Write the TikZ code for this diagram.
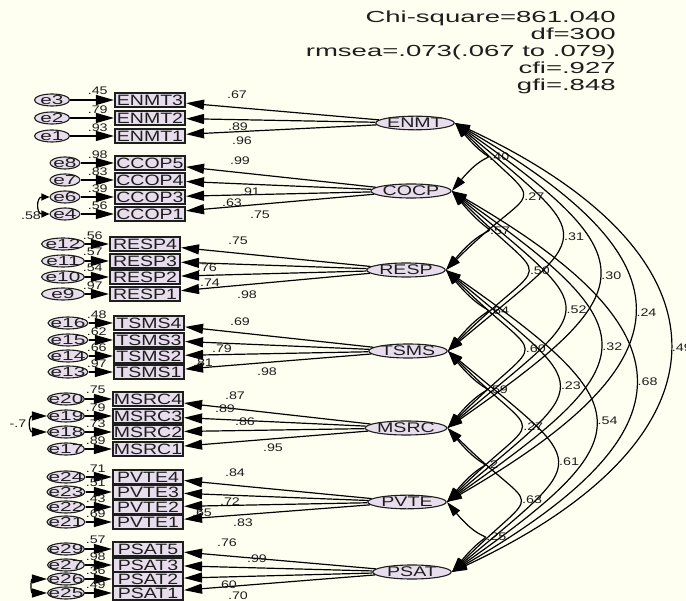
\documentclass[tikz,border=0pt]{standalone}
\usepackage{fontspec}
\setmainfont{Liberation Sans}
\usetikzlibrary{arrows.meta,calc,shapes.geometric}
\definecolor{paper}{RGB}{255,255,241}
\definecolor{lilac}{RGB}{231,221,236}
\definecolor{ink}{RGB}{30,30,30}
\newcommand{\indic}[7]{% box, x, y, error, error x, error width, r2
\node[obs] (#1) at (#2,#3) {#1};
\node[err,minimum width=#6pt,label={[errtxt]center:#4}] (#4) at (#5,#3) {};
\draw[arr] (#4) -- (#1);
\node[lab,anchor=east] (r#1) at ($(#1.north west)+(-6,-1)$) {#7};
}
\newcommand{\corr}[5]{% from, to, angle, looseness, value
\draw[cov] (#1.east) to[out=-#3,in=#3,looseness=#4] node[lab,pos=.5,anchor=west,xshift=2pt] (c#1#2) {#5} (#2.east);
}

\begin{document}
\begin{tikzpicture}[x=1pt,y=-1pt,
  obs/.style={draw=ink,line width=1.5pt,fill=lilac,rectangle,inner sep=0pt,minimum width=54pt,minimum height=14pt,xscale=1.3,font=\fontsize{15}{15}\selectfont,text=ink},
  lat/.style={draw=ink,line width=1.1pt,fill=lilac,ellipse,inner sep=0pt,minimum width=56pt,minimum height=13pt,xscale=1.4,font=\fontsize{14}{14}\selectfont,text=ink},
  err/.style={draw=ink,line width=1.1pt,fill=lilac,ellipse,inner sep=0pt,minimum height=12pt},
  errtxt/.style={inner sep=0pt,xscale=1.6,font=\fontsize{13}{13}\selectfont,text=ink},
  lab/.style={inner sep=0pt,xscale=1.3,font=\fontsize{11}{11}\selectfont,text=ink},
  hdr/.style={inner sep=0pt,anchor=east,align=right,xscale=1.72,font=\fontsize{16}{17}\selectfont,text=ink},
  arr/.style={-{Triangle[length=18pt,width=10pt]},line width=1.2pt},
  cov/.style={{Triangle[length=15pt,width=9pt]}-{Triangle[length=15pt,width=9pt]},line width=1.2pt},
  smallcov/.style={{Triangle[length=8pt,width=7pt]}-{Triangle[length=8pt,width=7pt]},line width=1.2pt}]
\useasboundingbox (0,0) rectangle (686,601);
\fill[paper] (0,0) rectangle (686,601);
%
\node[hdr] (fit) at (616,52) {Chi-square=861.040\\df=300\\rmsea=.073(.067 to .079)\\cfi=.927\\gfi=.848};
%
\node[lat] (ENMT) at (415,123) {ENMT};
\node[lat] (COCP) at (411,191) {COCP};
\node[lat] (RESP) at (406,270) {RESP};
\node[lat] (TSMS) at (408,351) {TSMS};
\node[lat] (MSRC) at (406,428) {MSRC};
\node[lat] (PVTE) at (407,502) {PVTE};
\node[lat] (PSAT) at (412,572) {PSAT};
%
\indic{ENMT3}{150}{100}{e3}{52}{35}{.45}
\indic{ENMT2}{150}{118}{e2}{52}{35}{.79}
\indic{ENMT1}{150}{136}{e1}{52}{35}{.93}
\draw[arr] (ENMT) -- (ENMT3);
\draw[arr] (ENMT) -- (ENMT2);
\draw[arr] (ENMT) -- (ENMT1);
\node[lab] (lENMT3) at (237,95) {.67};
\node[lab] (lENMT2) at (238,127) {.89};
\node[lab] (lENMT1) at (242,141) {.96};
%
\indic{CCOP5}{150}{163}{e8}{65}{30}{.98}
\indic{CCOP4}{150}{180}{e7}{65}{30}{.83}
\indic{CCOP3}{150}{197}{e6}{65}{30}{.39}
\indic{CCOP1}{150}{214}{e4}{65}{30}{.56}
\draw[arr] (COCP) -- (CCOP5);
\draw[arr] (COCP) -- (CCOP4);
\draw[arr] (COCP) -- (CCOP3);
\draw[arr] (COCP) -- (CCOP1);
\node[lab] (lCCOP5) at (240,161) {.99};
\node[lab] (lCCOP4) at (250,192) {.91};
\node[lab] (lCCOP3) at (232,203) {.63};
\node[lab] (lCCOP1) at (260,215) {.75};
\draw[smallcov] (e6.west) to[out=180,in=180,looseness=2] (e4.west);
\node[lab] (ce6e4) at (31,216) {.58};
%
\indic{RESP4}{145}{244}{e12}{63}{43}{.56}
\indic{RESP3}{145}{261}{e11}{63}{43}{.57}
\indic{RESP2}{145}{277}{e10}{63}{43}{.54}
\indic{RESP1}{145}{294}{e9}{63}{43}{.97}
\draw[arr] (RESP) -- (RESP4);
\draw[arr] (RESP) -- (RESP3);
\draw[arr] (RESP) -- (RESP2);
\draw[arr] (RESP) -- (RESP1);
\node[lab] (lRESP4) at (238,241) {.75};
\node[lab] (lRESP3) at (207,268) {.76};
\node[lab] (lRESP2) at (210,283) {.74};
\node[lab] (lRESP1) at (247,295) {.98};
%
\indic{TSMS4}{149}{323}{e16}{68}{40}{.48}
\indic{TSMS3}{149}{340}{e15}{68}{40}{.62}
\indic{TSMS2}{149}{356}{e14}{68}{40}{.66}
\indic{TSMS1}{149}{372}{e13}{68}{40}{.97}
\draw[arr] (TSMS) -- (TSMS4);
\draw[arr] (TSMS) -- (TSMS3);
\draw[arr] (TSMS) -- (TSMS2);
\draw[arr] (TSMS) -- (TSMS1);
\node[lab] (lTSMS4) at (240,322) {.69};
\node[lab] (lTSMS3) at (222,349) {.79};
\node[lab] (lTSMS2) at (203,363) {.81};
\node[lab] (lTSMS1) at (267,372) {.98};
%
\indic{MSRC4}{148}{399}{e20}{66}{37}{.75}
\indic{MSRC3}{148}{416}{e19}{66}{37}{.79}
\indic{MSRC2}{148}{432}{e18}{66}{37}{.73}
\indic{MSRC1}{148}{449}{e17}{66}{37}{.89}
\draw[arr] (MSRC) -- (MSRC4);
\draw[arr] (MSRC) -- (MSRC3);
\draw[arr] (MSRC) -- (MSRC2);
\draw[arr] (MSRC) -- (MSRC1);
\node[lab] (lMSRC4) at (235,396) {.87};
\node[lab] (lMSRC3) at (225,409) {.89};
\node[lab] (lMSRC2) at (245,422) {.86};
\node[lab] (lMSRC1) at (273,448) {.95};
\draw[cov] (e19.west) to[out=180,in=180,looseness=3] (e18.west);
\node[lab] (ce19e18) at (18,424) {-.7};
%
\indic{PVTE4}{148}{477}{e24}{66}{38}{.71}
\indic{PVTE3}{148}{492}{e23}{66}{38}{.51}
\indic{PVTE2}{148}{507}{e22}{66}{38}{.43}
\indic{PVTE1}{148}{522}{e21}{66}{38}{.69}
\draw[arr] (PVTE) -- (PVTE4);
\draw[arr] (PVTE) -- (PVTE3);
\draw[arr] (PVTE) -- (PVTE2);
\draw[arr] (PVTE) -- (PVTE1);
\node[lab] (lPVTE4) at (235,473) {.84};
\node[lab] (lPVTE3) at (230,502) {.72};
\node[lab] (lPVTE2) at (202,513) {.65};
\node[lab] (lPVTE1) at (243,523) {.83};
%
\indic{PSAT5}{148}{549}{e29}{66}{37}{.57}
\indic{PSAT3}{148}{565}{e27}{66}{37}{.98}
\indic{PSAT2}{148}{579}{e26}{66}{37}{.36}
\indic{PSAT1}{148}{593}{e25}{66}{37}{.49}
\draw[arr] (PSAT) -- (PSAT5);
\draw[arr] (PSAT) -- (PSAT3);
\draw[arr] (PSAT) -- (PSAT2);
\draw[arr] (PSAT) -- (PSAT1);
\node[lab] (lPSAT5) at (227,543) {.76};
\node[lab] (lPSAT3) at (257,559) {.99};
\node[lab] (lPSAT2) at (227,585) {.60};
\node[lab] (lPSAT1) at (238,595.5) {.70};
\draw[cov] (e26.west) to[out=180,in=180,looseness=3] (e25.west);
%
\corr{ENMT}{COCP}{50}{2.54}{.40}
\corr{COCP}{RESP}{50}{2.54}{.57}
\corr{RESP}{TSMS}{50}{2.54}{.64}
\corr{TSMS}{MSRC}{50}{2.54}{.59}
\corr{MSRC}{PVTE}{50}{2.54}{.2}
\corr{PVTE}{PSAT}{50}{2.54}{.25}
\corr{ENMT}{RESP}{45}{2.31}{.27}
\corr{COCP}{TSMS}{45}{2.31}{.50}
\corr{RESP}{MSRC}{45}{2.31}{.60}
\corr{TSMS}{PVTE}{45}{2.31}{.27}
\corr{MSRC}{PSAT}{45}{2.31}{.63}
\corr{ENMT}{TSMS}{40}{2.13}{.31}
\corr{COCP}{MSRC}{40}{2.13}{.52}
\corr{RESP}{PVTE}{40}{2.13}{.23}
\corr{TSMS}{PSAT}{40}{2.13}{.61}
\corr{ENMT}{MSRC}{35}{2.0}{.30}
\corr{COCP}{PVTE}{35}{2.0}{.32}
\corr{RESP}{PSAT}{35}{2.0}{.54}
\corr{ENMT}{PVTE}{30}{1.89}{.24}
\corr{COCP}{PSAT}{30}{1.89}{.68}
\corr{ENMT}{PSAT}{25}{1.8}{.49}
\end{tikzpicture}
\end{document}
